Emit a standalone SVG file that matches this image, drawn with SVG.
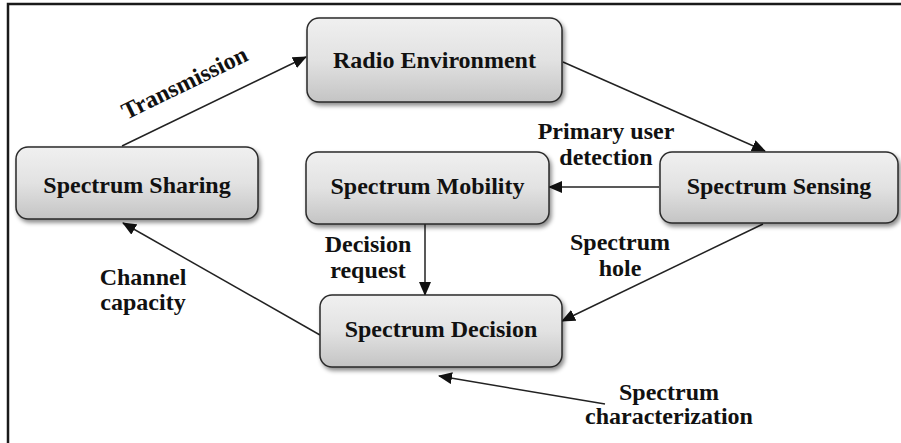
<svg xmlns="http://www.w3.org/2000/svg" width="901" height="443" viewBox="0 0 901 443">
<defs>
<linearGradient id="g" x1="0" y1="0" x2="0" y2="1">
<stop offset="0" stop-color="#f0f0f0"/>
<stop offset="0.5" stop-color="#e2e2e2"/>
<stop offset="1" stop-color="#c4c4c4"/>
</linearGradient>
<filter id="sh" x="-10%" y="-10%" width="125%" height="135%">
<feDropShadow dx="2" dy="3" stdDeviation="2" flood-color="#000" flood-opacity="0.45"/>
</filter>
<marker id="ah" markerWidth="14" markerHeight="12" refX="13" refY="6" orient="auto" markerUnits="userSpaceOnUse">
<path d="M0,0 L14,6 L0,12 Z" fill="#111"/>
</marker>
</defs>
<style>
.box{fill:url(#g);stroke:#2a2a2a;stroke-width:1.5;filter:url(#sh)}
.t{font-family:'Liberation Serif','DejaVu Serif',serif;font-weight:700;font-size:24px;fill:#111;text-anchor:middle}
.c{fill:none;stroke:#222;stroke-width:1.5;marker-end:url(#ah)}
</style>
<path d="M8,443 L8,4 L901,4" fill="none" stroke="#1a1a1a" stroke-width="2.5"/>
<g id="connectors">
<line class="c" x1="122" y1="146" x2="306" y2="57"/>
<line class="c" x1="563" y1="62" x2="765" y2="151"/>
<line class="c" x1="659" y1="187" x2="549" y2="187"/>
<line class="c" x1="425" y1="224" x2="425" y2="295"/>
<line class="c" x1="763" y1="224" x2="562" y2="321"/>
<line class="c" x1="320" y1="335" x2="123" y2="223"/>
<line class="c" x1="605" y1="404" x2="439" y2="376"/>
<text class="t" transform="translate(188,90) rotate(-26)">Transmission</text>
<text class="t" x="606" y="139">Primary user</text>
<text class="t" x="606" y="165">detection</text>
<text class="t" x="368" y="252">Decision</text>
<text class="t" x="368" y="278">request</text>
<text class="t" x="620" y="250">Spectrum</text>
<text class="t" x="620" y="276">hole</text>
<text class="t" x="143" y="285">Channel</text>
<text class="t" x="143" y="310">capacity</text>
<text class="t" x="669" y="400">Spectrum</text>
<text class="t" x="669" y="424">characterization</text>
</g>
<g id="radio">
<rect class="box" x="307" y="18" width="255" height="84" rx="12"/>
<text class="t" x="434.5" y="68">Radio Environment</text>
</g>
<g id="sharing">
<rect class="box" x="16" y="147" width="242" height="72" rx="12"/>
<text class="t" x="137" y="193">Spectrum Sharing</text>
</g>
<g id="mobility">
<rect class="box" x="306" y="152" width="243" height="72" rx="12"/>
<text class="t" x="427.5" y="194">Spectrum Mobility</text>
</g>
<g id="sensing">
<rect class="box" x="660" y="152" width="238" height="71" rx="12"/>
<text class="t" x="779" y="194">Spectrum Sensing</text>
</g>
<g id="decision">
<rect class="box" x="320" y="295" width="242" height="72" rx="12"/>
<text class="t" x="441" y="337">Spectrum Decision</text>
</g>
</svg>
